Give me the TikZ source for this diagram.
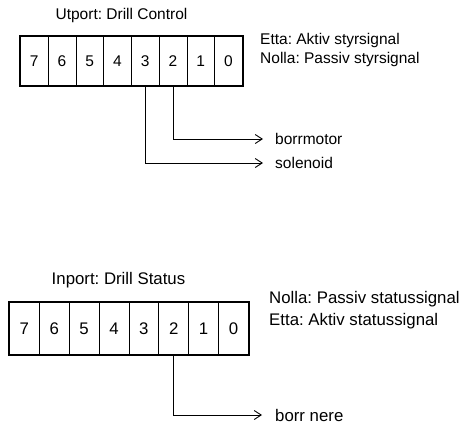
\documentclass[tikz,border=0pt]{standalone}
\usepackage{fontspec}
\setmainfont{Liberation Sans}
\usetikzlibrary{arrows.meta}
\frenchspacing
\begin{document}
\begin{tikzpicture}[x=1pt,y=-1pt,
  fa/.style={font=\fontsize{15.5}{18}\selectfont},
  fb/.style={font=\fontsize{16.8}{19}\selectfont},
  cellA/.style={draw, line width=0.8pt, minimum width=27.75pt, minimum height=49pt, inner sep=0pt, anchor=north west, fa},
  cellB/.style={draw, line width=0.8pt, minimum width=29.875pt, minimum height=52pt, inner sep=0pt, anchor=north west, fb},
  txt/.style={inner sep=0pt},
  sig/.style={line width=0.9pt, -{Straight Barb[length=7pt,width=9pt,line width=0.9pt]}},
  frame/.style={draw, line width=2pt}]
\useasboundingbox (0,0) rectangle (463,426);
% top register
\foreach \b [count=\i from 0] in {7,6,5,4,3,2,1,0}{
  \node[cellA] (a\b) at (20+27.75*\i,36) {\b};
}
\draw[frame] (a7.north west) rectangle (a0.south east);
\node[txt, fa] (titleA) at (121.5,15) {Utport: Drill Control};
\node[txt, fa, anchor=west] (etta1) at (260,40) {Etta: Aktiv styrsignal};
\node[txt, fa, anchor=west] (nolla1) at (260,59) {Nolla: Passiv styrsignal};
\node[txt, fa, anchor=west, inner xsep=12pt] (borrmotor) at (263,139) {borrmotor};
\node[txt, fa, anchor=west, inner xsep=12pt] (solenoid) at (263,163) {solenoid};
\draw[sig] (a2.south) |- (borrmotor.west);
\draw[sig] (a3.south) |- (solenoid.west);
% bottom register
\foreach \b [count=\i from 0] in {7,6,5,4,3,2,1,0}{
  \node[cellB] (b\b) at (9+29.875*\i,302) {\b};
}
\draw[frame] (b7.north west) rectangle (b0.south east);
\node[txt, fb] (titleB) at (118.5,280) {Inport: Drill Status};
\node[txt, fb, anchor=west] (nolla2) at (269,299) {Nolla: Passiv statussignal};
\node[txt, fb, anchor=west] (etta2) at (269,321) {Etta: Aktiv statussignal};
\node[txt, fb, anchor=west, inner xsep=13pt] (borrnere) at (262,415) {borr nere};
\draw[sig] (b2.south) |- (borrnere.west);
\end{tikzpicture}
\end{document}
